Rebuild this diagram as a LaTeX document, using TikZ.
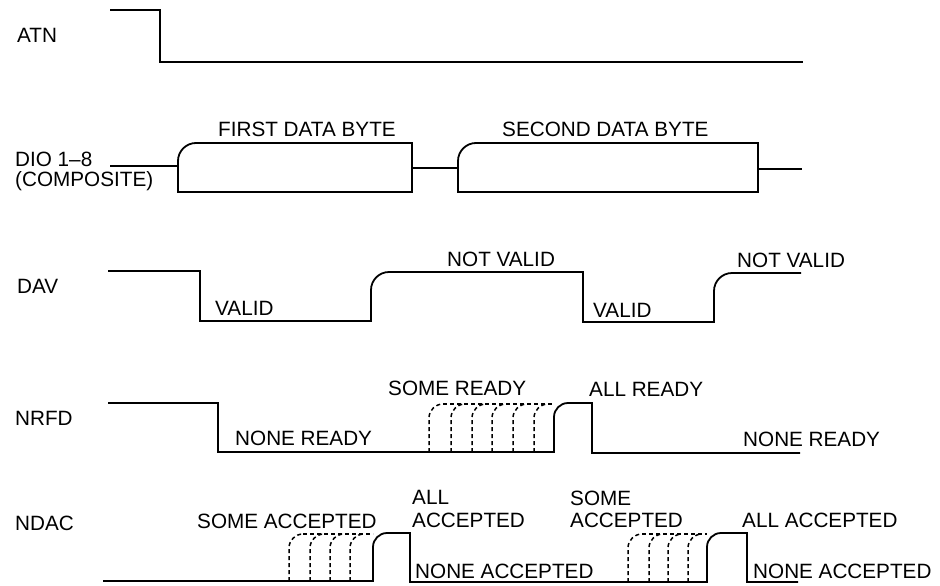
\documentclass[tikz,border=0pt]{standalone}
\usepackage{fontspec}
\setmainfont{Liberation Sans}
\begin{document}
\begin{tikzpicture}[x=1pt,y=-1pt,
  sig/.style={line width=1.8pt},
  dsig/.style={line width=1.5pt, dash pattern=on 4pt off 3pt},
  lbl/.style={anchor=base west, inner sep=0pt, font=\fontsize{20.7}{23}\selectfont}]
\useasboundingbox[fill=white] (0,0) rectangle (940,586);

% ---------- labels ----------
\node[lbl] (lATN) at (17,43) {ATN};
\node[lbl] (lDIOa) at (15,166) {DIO 1--8};
\node[lbl] (lDIOb) at (15,186.5) {(COMPOSITE)};
\node[lbl] (lDAV) at (17,293) {DAV};
\node[lbl] (lNRFD) at (15,425) {NRFD};
\node[lbl] (lNDAC) at (15,530) {NDAC};

\node[lbl] (tFirst) at (218,136.5) {FIRST DATA BYTE};
\node[lbl] (tSecond) at (502,136.5) {SECOND DATA BYTE};

\node[lbl] (tValidA) at (215,315) {VALID};
\node[lbl] (tNotValidA) at (447,266.5) {NOT VALID};
\node[lbl] (tValidB) at (593,317) {VALID};
\node[lbl] (tNotValidB) at (737,267) {NOT VALID};

\node[lbl] (tNoneRdyA) at (235,445) {NONE READY};
\node[lbl] (tSomeRdy) at (388,395) {SOME READY};
\node[lbl] (tAllRdy) at (589,396) {ALL READY};
\node[lbl] (tNoneRdyB) at (743,446) {NONE READY};

\node[lbl] (tSomeAccA) at (197,528) {SOME ACCEPTED};
\node[lbl] (tAllAccAa) at (412,504) {ALL};
\node[lbl] (tAllAccAb) at (412,527) {ACCEPTED};
\node[lbl] (tNoneAccA) at (415,578) {NONE ACCEPTED};
\node[lbl] (tSomeAccBa) at (570,505) {SOME};
\node[lbl] (tSomeAccBb) at (570,527) {ACCEPTED};
\node[lbl] (tAllAccB) at (742,527) {ALL ACCEPTED};
\node[lbl] (tNoneAccB) at (753,578) {NONE ACCEPTED};

% ---------- ATN ----------
\draw[sig] (110,10) -- (160,10) -- (160,62) -- (803,62);

% ---------- DIO ----------
\draw[sig] (110,166) -- (178,166);
\draw[sig] (178,192) -- (178,161) .. controls (178,151.1) and (186.1,143) .. (196,143)
  -- (412,143) -- (412,192) -- cycle;
\draw[sig] (412,168) -- (458,168);
\draw[sig] (458,192) -- (458,161) .. controls (458,151.1) and (466.1,143) .. (476,143)
  -- (758,143) -- (758,192) -- cycle;
\draw[sig] (758,169) -- (802,169);

% ---------- DAV ----------
\draw[sig] (108,271) -- (200,271) -- (200,321) -- (371,321) -- (371,290)
  .. controls (371,280.1) and (379.1,272) .. (389,272) -- (583,272) -- (583,322)
  -- (714,322) -- (714,291) .. controls (714,281.1) and (722.1,273) .. (732,273)
  -- (801,273);

% ---------- NRFD ----------
\draw[sig] (108,403) -- (218,403) -- (218,452) -- (554,452) -- (554,417)
  .. controls (554,409.3) and (560.3,403) .. (568,403) -- (592,403) -- (592,453)
  -- (800,453);
\foreach \x in {429,451,472,492,513,534}
  \draw[dsig] (\x,452) -- (\x,418) .. controls (\x,410.3) and (\x+6.3,404) .. (\x+14,404);
\draw[dsig] (443,404) -- (554,404);

% ---------- NDAC ----------
\draw[sig] (103,581) -- (373,581) -- (373,547)
  .. controls (373,539.3) and (379.3,533) .. (387,533) -- (410,533) -- (410,582)
  -- (707,582) -- (707,547) .. controls (707,539.3) and (713.3,533) .. (721,533)
  -- (747,533) -- (747,582) -- (798,582);
\foreach \x in {289,310,330,350}
  \draw[dsig] (\x,581) -- (\x,548) .. controls (\x,540.3) and (\x+6.3,534) .. (\x+14,534);
\draw[dsig] (303,534) -- (373,534);
\foreach \x in {628,649,668,688}
  \draw[dsig] (\x,582) -- (\x,548) .. controls (\x,540.3) and (\x+6.3,534) .. (\x+14,534);
\draw[dsig] (642,534) -- (707,534);
\end{tikzpicture}
\end{document}
